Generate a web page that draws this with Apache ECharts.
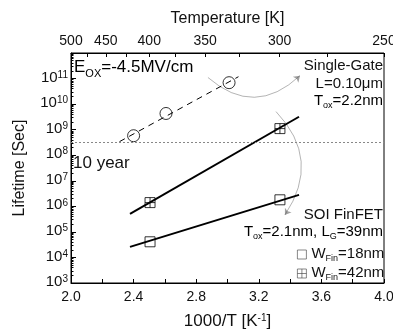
<!DOCTYPE html>
<html><head><meta charset="utf-8">
<script src="https://cdn.jsdelivr.net/npm/echarts@6.0.0/dist/echarts.min.js"></script>
<style>html,body{margin:0;padding:0;background:#fff}#c{width:393px;height:331px}</style>
</head><body><div id="c"></div>
<script>
// ---- data ----
const xTickLabels = [2.0, 2.4, 2.8, 3.2, 3.6, 4.0];
const xMinorTicks = [2.0, 2.2, 2.4, 2.6, 2.8, 3.0, 3.2, 3.4, 3.6, 3.8, 4.0];
const yDecades = [3, 4, 5, 6, 7, 8, 9, 10, 11, 12];
const topTempLabels = [500, 450, 400, 350, 300, 250];
const topTempTicks = [500, 475, 450, 425, 400, 375, 350, 325, 300, 275, 250];
const sgLine = [[2.31, 3.4e8], [3.07, 1.18e11]];
const sgPoints = [[2.40, 5.8e8], [2.607, 4.3e9], [3.01, 6.9e10]];
const w42Line = [[2.377, 5.1e5], [3.457, 3.2e9]];
const w42Points = [[2.505, 1.4e6], [3.335, 1.1e9]];
const w18Line = [[2.377, 2.6e4], [3.457, 2.8e6]];
const w18Points = [[2.505, 4.1e4], [3.335, 1.8e6]];
const tenYear = 3.15e8;
const arrowSG = [[2.875, 1.1e11], [3.463, 1.3e11]];
const arrowFin = [[3.31, 5.1e9], [3.367, 4.6e5]];

const FONT = 'Liberation Sans, Arial, Helvetica, sans-serif';
const minorLog = [];
yDecades.slice(0, -1).forEach(n => { for (let k = 2; k <= 9; k++) minorLog.push(n + Math.log10(k)); });

const chart = echarts.init(document.getElementById('c'), null, {renderer: 'canvas'});
const sub = (fs, pad) => ({fontSize: fs, fontFamily: FONT, color: '#111', verticalAlign: 'top', lineHeight: fs, padding: [pad, 0, 0, 0]});
const main = fs => ({fontSize: fs, fontFamily: FONT, color: '#111', verticalAlign: 'top', lineHeight: fs + 2});

const option = {
  animation: false,
  backgroundColor: '#fff',
  grid: {left: 71, right: 9, top: 53, bottom: 48, show: true, borderColor: '#000', borderWidth: 1, containLabel: false, outerBoundsMode: 'none'},
  xAxis: [
    {type: 'value', min: 2, max: 4, interval: 0.4, position: 'bottom',
     name: '{a|1000/T [K}{p|-1}{a|]}', nameLocation: 'middle', nameGap: 30,
     nameTextStyle: {rich: {a: main(17), p: {fontSize: 10, fontFamily: FONT, color: '#111', verticalAlign: 'top', lineHeight: 10}}},
     axisLine: {onZero: false, lineStyle: {color: '#000', width: 1}},
     axisTick: {inside: true, length: 4, customValues: xMinorTicks, lineStyle: {color: '#000'}},
     axisLabel: {fontSize: 14, fontFamily: FONT, color: '#111', margin: 7, formatter: v => v.toFixed(1)},
     splitLine: {show: false}},
    {type: 'value', min: 2, max: 4, position: 'top',
     name: 'Temperature [K]', nameLocation: 'middle', nameGap: 26,
     nameTextStyle: {fontSize: 16, fontFamily: FONT, color: '#111'},
     axisLine: {onZero: false, lineStyle: {color: '#000', width: 1}},
     axisTick: {inside: true, length: 4, customValues: topTempTicks.map(t => 1000 / t), lineStyle: {color: '#000'}},
     axisLabel: {fontSize: 14, fontFamily: FONT, color: '#111', margin: 5,
                 customValues: topTempLabels.map(t => 1000 / t), formatter: v => String(Math.round(1000 / v))},
     splitLine: {show: false}}
  ],
  yAxis: [
    {type: 'log', logBase: 10, min: 1e3, max: 1e12, interval: 1, position: 'left',
     name: 'Lifetime [Sec]', nameLocation: 'middle', nameGap: 43,
     nameTextStyle: {fontSize: 16, fontFamily: FONT, color: '#111'},
     axisLine: {onZero: false, lineStyle: {color: '#000', width: 1}},
     axisTick: {inside: true, length: 5, lineStyle: {color: '#000'}},
     axisLabel: {margin: 3, formatter: v => {const n = Math.round(Math.log10(v)); return n >= 12 ? '' : '{b|10}{p|' + n + '}';},
                 rich: {b: {fontSize: 15, fontFamily: FONT, color: '#111', verticalAlign: 'top', lineHeight: 17},
                        p: {fontSize: 10, fontFamily: FONT, color: '#111', verticalAlign: 'top', lineHeight: 10}}},
     splitLine: {show: false}},
    {type: 'value', min: yDecades[0], max: yDecades[yDecades.length - 1], position: 'left',
     axisLine: {show: false}, axisLabel: {show: false}, splitLine: {show: false},
     axisTick: {inside: true, length: 2.5, customValues: minorLog, lineStyle: {color: '#000'}}}
  ],
  legend: {
    orient: 'vertical', left: 292, top: 241, itemWidth: 9, itemHeight: 9, itemGap: 2,
    data: ['W18', 'W42'],
    itemStyle: {color: 'rgba(0,0,0,0)', borderColor: '#444', borderWidth: 0.8},
    formatter: n => n === 'W18' ? '{a|W}{s|Fin}{a|=18nm}' : '{a|W}{s|Fin}{a|=42nm}',
    textStyle: {rich: {a: main(15), s: sub(9, 8)}}
  },
  series: [
    {type: 'line', data: sgLine, symbol: 'none', lineStyle: {color: '#000', width: 1, type: [6, 5]}, silent: true,
     markLine: {silent: true, symbol: 'none', label: {show: false}, lineStyle: {color: '#888', type: [2, 2], width: 1},
                data: [{yAxis: tenYear}]}},
    {type: 'scatter', data: sgPoints, symbol: 'circle', symbolSize: 12,
     itemStyle: {color: 'none', borderColor: '#000', borderWidth: 1}},
    {type: 'line', data: w42Line, symbol: 'none', lineStyle: {color: '#000', width: 2}},
    {type: 'line', data: w18Line, symbol: 'none', lineStyle: {color: '#000', width: 2}},
    {name: 'W42', type: 'scatter', data: w42Points, symbol: 'path://M0,0H10V10H0Z M5,0V10 M0,5H10', symbolSize: 10,
     itemStyle: {color: 'none', borderColor: '#000', borderWidth: 1}},
    {name: 'W18', type: 'scatter', data: w18Points, symbol: 'rect', symbolSize: 10,
     itemStyle: {color: 'none', borderColor: '#000', borderWidth: 1}},
    {type: 'lines', coordinateSystem: 'cartesian2d', polyline: false, symbol: ['none', 'arrow'], symbolSize: 6,
     lineStyle: {color: '#444', width: 0.8, curveness: -0.45},
     data: [{coords: arrowSG}]},
    {type: 'lines', coordinateSystem: 'cartesian2d', polyline: false, symbol: ['none', 'arrow'], symbolSize: 6,
     lineStyle: {color: '#444', width: 0.8, curveness: 0.4},
     data: [{coords: arrowFin}]}
  ],
  graphic: [
    {type: 'text', x: 74, y: 59, style: {text: '{a|E}{s|OX}{a|=-4.5MV/cm}', rich: {a: main(17), s: sub(11, 9)}}},
    {type: 'text', x: 73, y: 155, style: {text: '10 year', font: '17px ' + FONT, fill: '#111'}},
    {type: 'text', x: 383, y: 58, style: {text: 'Single-Gate', font: '15px ' + FONT, fill: '#111', align: 'right'}},
    {type: 'text', x: 383, y: 76, style: {text: 'L=0.10\u03bcm', font: '15px ' + FONT, fill: '#111', align: 'right'}},
    {type: 'text', x: 383, y: 93, style: {text: '{a|T}{s|ox}{a|=2.2nm}', align: 'right', rich: {a: main(15), s: sub(9, 8)}}},
    {type: 'text', x: 383, y: 207, style: {text: 'SOI FinFET', font: '15px ' + FONT, fill: '#111', align: 'right'}},
    {type: 'text', x: 383, y: 224, style: {text: '{a|T}{s|ox}{a|=2.1nm, L}{s|G}{a|=39nm}', align: 'right', rich: {a: main(15), s: sub(9, 8)}}}
  ]
};
chart.setOption(option);
</script></body></html>
